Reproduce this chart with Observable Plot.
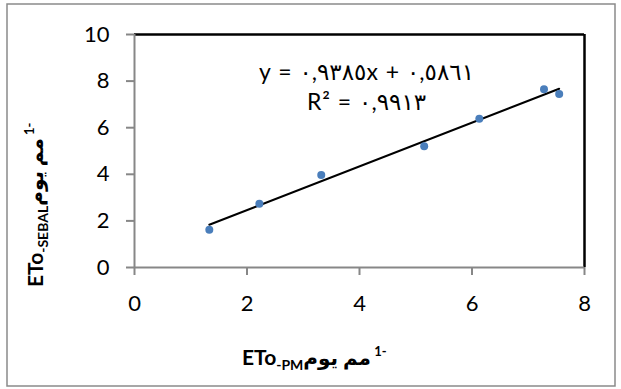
<!DOCTYPE html>
<html><head><meta charset="utf-8">
<script src="https://cdn.jsdelivr.net/npm/d3@7"></script>
<script src="https://cdn.jsdelivr.net/npm/@observablehq/plot@0.6"></script>
<style>
html,body{margin:0;padding:0;background:#fff;}
#chart svg{display:block;}
</style>
</head><body><div id="chart"></div>
<script>
// Data
const pmValues    = [1.33, 2.22, 3.32, 5.15, 6.13, 7.28, 7.55];
const sebalValues = [1.62, 2.74, 3.97, 5.20, 6.38, 7.65, 7.45];
const slope = 0.9385, intercept = 0.5861, r2 = 0.9913;
const xTicks = [0, 2, 4, 6, 8];
const yTicks = [0, 2, 4, 6, 8, 10];
const xTitle = {main: "ETo", sub: "-PM", ar: "مم يوم", sup: "1-"};
const yTitle = {main: "ETo", sub: "-SEBAL", ar: "مم يوم", sup: "1-"};

const FONT = "Lato, 'DejaVu Sans', sans-serif";
const AXIS_GRAY = "#878787";

const points = pmValues.map((x, i) => ({x, y: sebalValues[i]}));
const trend = d3.extent(pmValues).map(x => ({x, y: slope * x + intercept}));
const toArabic = v => v.toFixed(4).replace(".", ",").replace(/[0-9]/g, d => "٠١٢٣٤٥٦٧٨٩"[d]);
const eq1 = `y = ${toArabic(slope)}x + ${toArabic(intercept)}`;
const eq2 = `R² = ${toArabic(r2)}`;

const W = 621, H = 389;
const mL = 134, mR = 37, mT = 34, mB = 122;

const plot = Plot.plot({
  width: W, height: H,
  marginLeft: mL, marginRight: mR, marginTop: mT, marginBottom: mB,
  style: {fontFamily: FONT, fontSize: "22px", color: "#000", background: "#fff", overflow: "visible"},
  x: {domain: [0, 8], label: null},
  y: {domain: [0, 10], label: null},
  marks: [
    Plot.ruleY([10], {stroke: "#000", strokeWidth: 2.5}),
    Plot.ruleX([8], {stroke: "#000", strokeWidth: 2.5}),
    Plot.ruleX([0], {stroke: AXIS_GRAY, strokeWidth: 2}),
    Plot.ruleY([0], {stroke: AXIS_GRAY, strokeWidth: 2}),
    Plot.axisX({ticks: xTicks, tickSize: 8, tickPadding: 20, stroke: AXIS_GRAY, strokeWidth: 2, fill: "#000", label: null, tickFormat: d => String(d), fontSize: 22}),
    Plot.axisY({ticks: yTicks, tickSize: 8, tickPadding: 17, stroke: AXIS_GRAY, strokeWidth: 2, fill: "#000", label: null, tickFormat: d => String(d), fontSize: 22}),
    Plot.line(trend, {x: "x", y: "y", stroke: "#000", strokeWidth: 2}),
    Plot.dot(points, {x: "x", y: "y", r: 4, fill: "#4a7ebb", stroke: "none"}),
    Plot.text([eq1], {frameAnchor: "top-left", dx: 366 - mL, dy: 63 - mT, text: d => d, textAnchor: "middle", fontSize: 23, fill: "#000"}),
    Plot.text([eq2], {frameAnchor: "top-left", dx: 366 - mL, dy: 93 - mT, text: d => d, textAnchor: "middle", fontSize: 23, fill: "#000"})
  ]
});

const svg = d3.select(plot);
svg.selectAll("text").filter(function() { const t = this.textContent; return t === eq1 || t === eq2; })
  .attr("letter-spacing", 1);
svg.insert("rect", ":first-child")
  .attr("x", 7).attr("y", 4).attr("width", 608).attr("height", 382)
  .attr("fill", "none").attr("stroke", "#8a8a8a").attr("stroke-width", 1.5);

function addTitle(t, x, y, rotate) {
  const g = svg.append("text")
    .attr("transform", `translate(${x},${y})` + (rotate ? " rotate(-90)" : ""))
    .attr("font-family", FONT).attr("font-weight", "bold").attr("font-size", 21)
    .attr("fill", "#000").attr("text-anchor", "start").attr("direction", "ltr");
  g.append("tspan").text(t.main);
  g.append("tspan").attr("font-size", 14).attr("dy", 5).text(t.sub);
  g.append("tspan").attr("font-size", 20).attr("dy", -5).text(t.ar + "\u200E");
  g.append("tspan").attr("font-size", 13).attr("dy", -9).text(" " + t.sup);
}
addTitle(xTitle, 242, 365, false);
addTitle(yTitle, 43, 287, true);

document.getElementById("chart").appendChild(plot);
</script>
</body></html>
